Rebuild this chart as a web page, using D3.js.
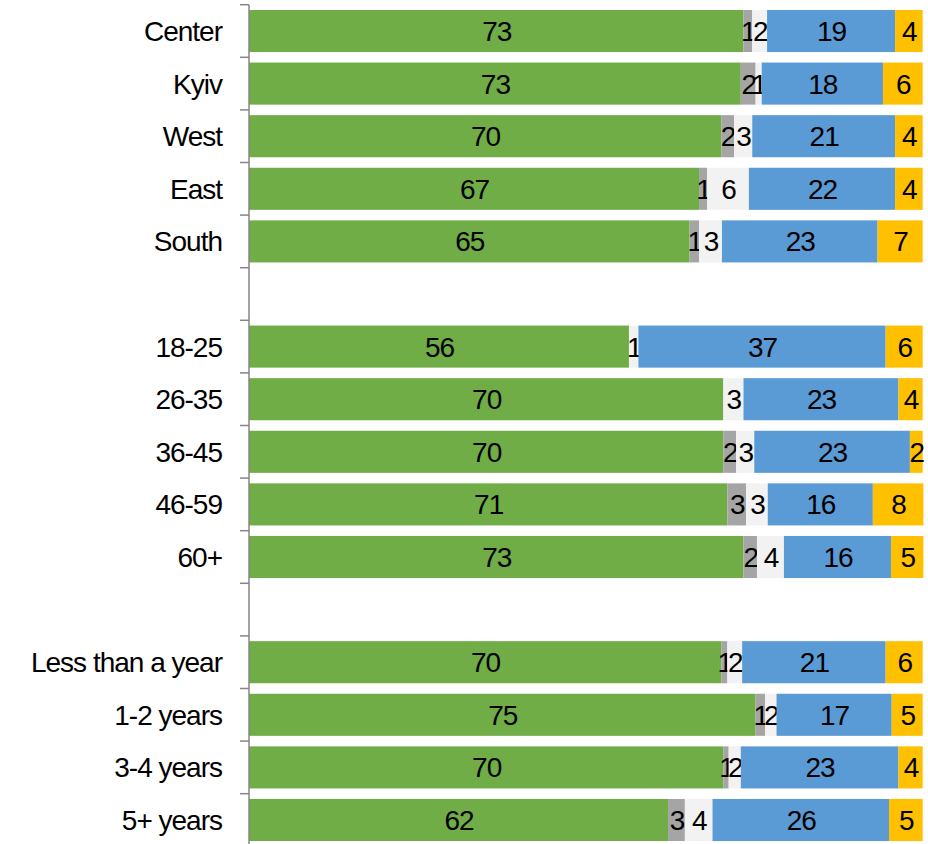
<!DOCTYPE html>
<html>
<head>
<meta charset="utf-8">
<script src="https://cdn.jsdelivr.net/npm/d3@7"></script>
<style>
  body { margin: 0; background: white; }
  text { font-family: "Liberation Sans", Arial, sans-serif; letter-spacing: -1px; }
</style>
</head>
<body>
<script>
var width = 928,
  height = 844;

// rows, blank keys are the gaps between groups
var categories = ["Center", "Kyiv", "West", "East", "South", "gap1",
  "18-25", "26-35", "36-45", "46-59", "60+", "gap2",
  "Less than a year", "1-2 years", "3-4 years", "5+ years"];

var seriesNames = ["s1", "s2", "s3", "s4", "s5"];
var colors = ["#70AD47", "#A5A5A5", "#F2F2F2", "#5B9BD5", "#FFC000"];

// values per row, in series order
var s1 = [73.4, 73.0, 70.1, 66.8, 65.4, 0, 56.4, 70.4, 70.4, 71.0, 73.4, 0, 70.1, 75.2, 70.4, 62.2];
var s2 = [1.3, 2.2, 1.9, 1.2, 1.4, 0, 0, 0, 1.9, 2.8, 2.0, 0, 0.9, 1.4, 0.8, 2.5];
var s3 = [2.2, 0.9, 2.7, 6.2, 3.4, 0, 1.4, 3.0, 2.7, 3.2, 4.0, 0, 2.2, 1.7, 1.8, 4.1];
var s4 = [19.0, 18.0, 21.2, 21.7, 23.1, 0, 36.7, 23.0, 23.1, 15.6, 15.9, 0, 21.3, 17.1, 23.4, 26.2];
var s5 = [4.1, 5.9, 4.1, 4.1, 6.7, 0, 5.5, 3.6, 1.9, 7.5, 4.8, 0, 5.5, 4.6, 3.6, 5.0];

var table = categories.map(function(c, i) {
  return { cat: c, s1: s1[i], s2: s2[i], s3: s3[i], s4: s4[i], s5: s5[i] };
});

var svg = d3.select("body").append("svg")
  .attr("width", width)
  .attr("height", height);

var x = d3.scaleLinear().domain([0, 100]).range([249, 922.7]);
var y = d3.scaleBand().domain(categories).range([4.7, 846.3])
  .paddingInner(0.2).paddingOuter(0.1);

var stack = d3.stack().keys(seriesNames);
var layers = stack(table);

var layer = svg.selectAll(".layer")
  .data(layers)
  .enter().append("g")
  .attr("class", "layer")
  .attr("fill", function(d, i) { return colors[i]; });

layer.selectAll("rect")
  .data(function(d) { return d; })
  .enter().append("rect")
  .filter(function(d) { return d[1] - d[0] > 0; })
  .attr("x", function(d) { return x(d[0]); })
  .attr("y", function(d) { return y(d.data.cat); })
  .attr("width", function(d) { return x(d[1]) - x(d[0]); })
  .attr("height", y.bandwidth());

layer.selectAll("text")
  .data(function(d) { return d; })
  .enter().append("text")
  .filter(function(d) { return d[1] - d[0] > 0; })
  .attr("x", function(d) { return (x(d[0]) + x(d[1])) / 2 + 0.5; })
  .attr("y", function(d) { return y(d.data.cat) + y.bandwidth() / 2; })
  .attr("dy", "0.36em")
  .attr("text-anchor", "middle")
  .attr("fill", "black")
  .style("font-size", "28px")
  .text(function(d) { return Math.round(d[1] - d[0]); });

// axis line with ticks at band boundaries
var axis = svg.append("g").attr("class", "axis");
var step = y.step();
var bounds = categories.map(function(c) { return y(c) - step * y.paddingInner() / 2; });
bounds.push(bounds[bounds.length - 1] + step);

axis.append("line")
  .attr("x1", 249).attr("x2", 249)
  .attr("y1", bounds[0]).attr("y2", height)
  .attr("stroke", "#868686")
  .attr("stroke-width", 1.5);

axis.selectAll(".tick")
  .data(bounds)
  .enter().append("line")
  .attr("class", "tick")
  .attr("x1", 240).attr("x2", 249)
  .attr("y1", function(d) { return d; })
  .attr("y2", function(d) { return d; })
  .attr("stroke", "#868686")
  .attr("stroke-width", 1.5);

axis.selectAll(".cat-label")
  .data(categories.filter(function(c) { return c.indexOf("gap") !== 0; }))
  .enter().append("text")
  .attr("class", "cat-label")
  .attr("x", 222)
  .attr("y", function(d) { return y(d) + y.bandwidth() / 2; })
  .attr("dy", "0.36em")
  .attr("text-anchor", "end")
  .attr("fill", "black")
  .style("font-size", "28px")
  .text(function(d) { return d; });
</script>
</body>
</html>
